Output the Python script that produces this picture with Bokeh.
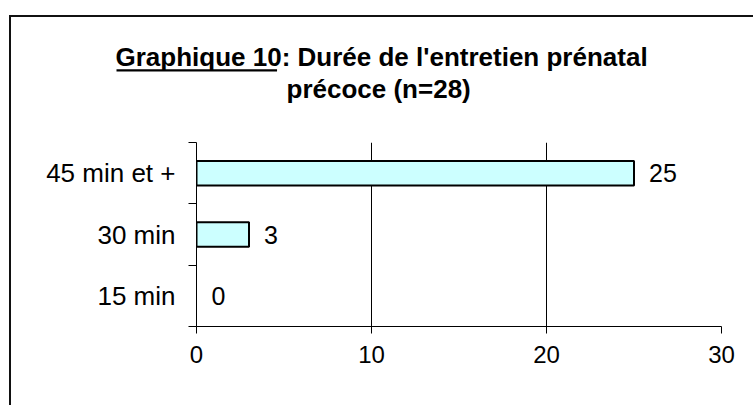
from bokeh.plotting import figure
from bokeh.models import (ColumnDataSource, Range1d, FixedTicker, Title,
                          CDSView, BooleanFilter)
from bokeh.core.properties import value
from bokeh.embed import file_html
from bokeh.resources import INLINE

# ---- data ----
categories = ["15 min", "30 min", "45 min et +"]   # bottom to top
counts = [0, 3, 25]
x_ticks = [0, 10, 20, 30]
title_line1 = "Graphique 10: Durée de l'entretien prénatal"
title_line2 = "précoce (n=28)"

ypos = [i + 0.5 for i in range(len(categories))]
source = ColumnDataSource(dict(cat=categories, count=counts, y=ypos,
                               label=[str(c) for c in counts]))

FONT = "Liberation Sans"

p = figure(width=744, height=390, output_backend="svg", toolbar_location=None,
           x_range=Range1d(0, 30), y_range=Range1d(0, len(categories)),
           min_border_left=185, min_border_right=34,
           min_border_top=125, min_border_bottom=81)
p.outline_line_color = None
p.background_fill_color = "white"
p.border_fill_color = "white"
p.styles = {"margin-left": "9px", "margin-top": "15px",
            "border-left": "2px solid #111111", "border-top": "2px solid #111111"}

# bars (zero-length bars are not drawn)
nonzero = CDSView(filter=BooleanFilter([c > 0 for c in counts]))
p.hbar(y="y", left=0, right="count", height=0.4, source=source, view=nonzero,
       fill_color="#CCFFFF", line_color="black", line_width=2)

# value labels
p.text(x="count", y="y", text="label", source=source, x_offset=15,
       text_baseline="middle", text_align="left",
       text_font=value(FONT), text_font_size="25px", text_color="black")

# x axis
xa = p.xaxis[0]
xa.ticker = FixedTicker(ticks=x_ticks, minor_ticks=[])
xa.axis_line_color = "black"
xa.major_tick_line_color = "black"
xa.major_tick_out = 7
xa.major_tick_in = 0
xa.minor_tick_line_color = None
xa.major_label_text_font = FONT
xa.major_label_text_font_size = "24px"
xa.major_label_text_color = "black"
xa.major_label_standoff = 12

# y axis
ya = p.yaxis[0]
ya.ticker = FixedTicker(ticks=ypos, minor_ticks=list(range(len(categories) + 1)))
ya.major_label_overrides = {y: c for y, c in zip(ypos, categories)}
ya.axis_line_color = "black"
ya.major_tick_out = 0
ya.major_tick_in = 0
ya.major_tick_line_color = None
ya.minor_tick_line_color = "black"
ya.minor_tick_out = 8
ya.minor_tick_in = 0
ya.major_label_text_font = FONT
ya.major_label_text_font_size = "26px"
ya.major_label_text_color = "black"
ya.major_label_standoff = 13

# grid
p.xgrid.grid_line_color = "black"
p.xgrid.grid_line_width = 1
p.ygrid.grid_line_color = None

# title rows (first added sits closest to the plot area)
p.title.text = ""
title_style = dict(text_font=FONT, text_font_style="bold",
                   text_font_size="26px", text_color="black", align="left")
spacer = Title(text=" ", text_font_size="1px", standoff=36, align="left")
t2 = Title(text=title_line2, offset=90, standoff=0, **title_style)
underline = Title(text=" ", text_font_size="2px", standoff=0, align="left",
                  offset=-80, background_fill_color="black",
                  padding=(0, 160, 0, 0))
t1 = Title(text=title_line1, offset=-81, standoff=-8, **title_style)
for t in (spacer, t2, underline, t1):
    p.add_layout(t, "above")

open("out.html", "w").write(file_html(p, INLINE))
